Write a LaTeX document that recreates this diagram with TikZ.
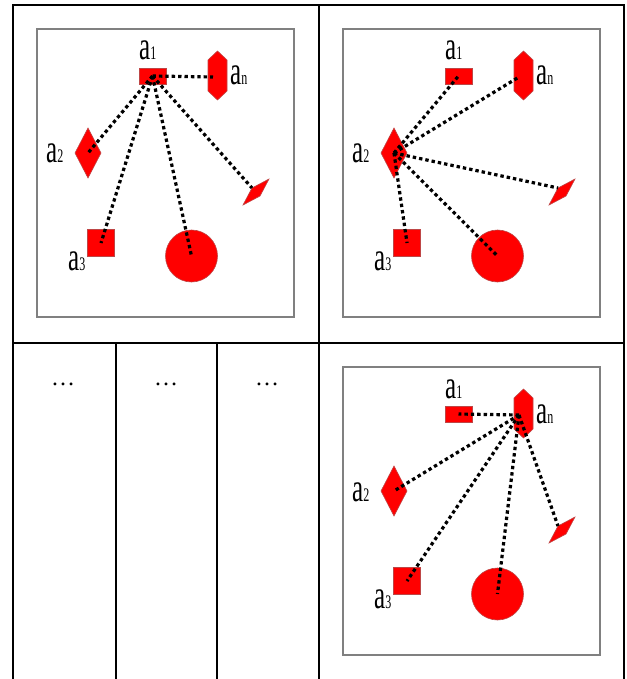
\documentclass[tikz,border=0pt]{standalone}
\usepackage{fontspec}
\setmainfont{Liberation Serif}
\usepackage{graphicx}
\usetikzlibrary{shapes.geometric}
\definecolor{shapered}{RGB}{255,0,0}
\definecolor{shapeedge}{RGB}{190,70,70}
\definecolor{boxgray}{RGB}{128,128,128}
\tikzset{
 tableline/.style={line width=2.6pt,black,line join=miter},
 innerbox/.style={draw=boxgray,line width=1.3pt,fill=white},
 redshape/.style={fill=shapered,draw=shapeedge,line width=0.6pt,inner sep=0pt,outer sep=0pt},
 rectshape/.style={redshape,rectangle,minimum width=27pt,minimum height=16pt},
 squareshape/.style={redshape,rectangle,minimum size=27pt},
 diamondshape/.style={redshape,diamond,minimum width=26pt,minimum height=50pt},
 circshape/.style={redshape,circle,minimum size=52pt},
 conn/.style={line width=3.2pt,dash pattern=on 3.4pt off 3pt,black},
 lbl/.style={inner sep=0pt,anchor=base west},
 dotsnode/.style={inner sep=0pt}
}
\newcommand\alab[1]{\scalebox{1}[1.6]{\fontsize{25}{25}\selectfont a\fontsize{12}{12}\selectfont #1}}
\newcommand\drawpanel[3]{%
 \begin{scope}[shift={(#2,#3)}]
  \draw[innerbox] (37,29) rectangle (294,317);
  \node[rectshape] (#1a1) at (152.5,76) {};
  \draw[redshape] (217.5,51) -- (227,60) -- (227,91) -- (217.5,100) -- (208,91) -- (208,60) -- cycle;
  \coordinate (#1an) at (213,77);
  \node[diamondshape] (#1a2) at (88,153) {};
  \node[squareshape] (#1a3) at (101,243) {};
  \node[circshape] (#1c) at (191.5,256) {};
  \draw[redshape] (243,205) -- (252,188) -- (269,179) -- (260,196) -- cycle;
  \coordinate (#1d) at (252,188);
  \node[lbl] (#1l1) at (139,60) {\alab{1}};
  \node[lbl] (#1ln) at (230,85) {\alab{n}};
  \node[lbl] (#1l2) at (46,163) {\alab{2}};
  \node[lbl] (#1l3) at (68,270) {\alab{3}};
 \end{scope}}
\begin{document}
\begin{tikzpicture}[x=1pt,y=-1pt]
\useasboundingbox (0,0) rectangle (626,679);
% table
\draw[tableline] (13,679) -- (13,5) -- (624,5) -- (624,679);
\draw[tableline] (319,5) -- (319,679);
\draw[tableline] (13,343) -- (624,343);
\draw[tableline] (116,343) -- (116,679);
\draw[tableline] (217,343) -- (217,679);
% dots
\node[dotsnode] (dots1) at (63,384) {\fontsize{24}{24}\selectfont\ldots};
\node[dotsnode] (dots2) at (166,384) {\fontsize{24}{24}\selectfont\ldots};
\node[dotsnode] (dots3) at (267,384) {\fontsize{24}{24}\selectfont\ldots};
% panels
\drawpanel{P}{0}{0}
\draw[conn] (Pa1.center) -- (Pan);
\draw[conn] (Pa1.center) -- (Pa2.center);
\draw[conn] (Pa1.center) -- (Pa3.center);
\draw[conn] (Pa1.center) -- (Pc.center);
\draw[conn] (Pa1.center) -- (Pd);
\drawpanel{Q}{306}{0}
\draw[conn] (Qa2.center) -- (Qa1.center);
\draw[conn] (Qa2.center) -- (Qan);
\draw[conn] (Qa2.center) -- (Qd);
\draw[conn] (Qa2.center) -- (Qc.center);
\draw[conn] (Qa2.center) -- (Qa3.center);
\drawpanel{R}{306}{338}
\draw[conn] (Ran) -- (Ra1.center);
\draw[conn] (Ran) -- (Ra2.center);
\draw[conn] (Ran) -- (Ra3.center);
\draw[conn] (Ran) -- (Rc.center);
\draw[conn] (Ran) -- (Rd);
\end{tikzpicture}
\end{document}
